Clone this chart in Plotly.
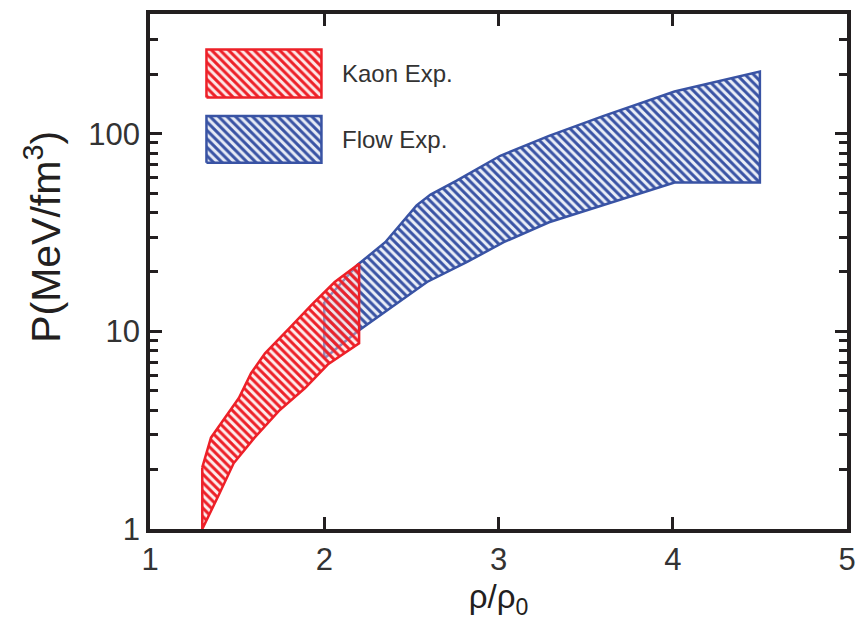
import plotly.graph_objects as go

# ---- data ----
kaon_upper_x = [1.30, 1.35, 1.41, 1.51, 1.58, 1.66, 1.80, 1.93, 2.06, 2.20]
kaon_upper_y = [2.05, 2.9, 3.45, 4.6, 6.15, 7.75, 10.4, 13.7, 17.8, 22.0]
kaon_lower_x = [1.30, 1.40, 1.48, 1.60, 1.74, 1.89, 2.02, 2.20]
kaon_lower_y = [1.0, 1.52, 2.15, 2.9, 3.96, 5.17, 6.8, 8.7]

flow_upper_x = [2.00, 2.19, 2.35, 2.48, 2.53, 2.61, 2.69, 2.76, 3.01, 3.29, 3.60, 4.01, 4.50]
flow_upper_y = [14.1, 21.7, 28.3, 38.7, 43.5, 49.3, 53.6, 58.0, 77.5, 97.7, 123.0, 164.0, 207.0]
flow_lower_x = [2.00, 2.19, 2.35, 2.59, 2.82, 3.03, 3.29, 3.60, 4.01, 4.50]
flow_lower_y = [7.3, 10.0, 12.6, 17.8, 22.5, 28.3, 35.7, 43.5, 56.7, 56.7]

series_names = ["Kaon Exp.", "Flow Exp."]
x_ticks = [1, 2, 3, 4, 5]
y_ticks = [1, 10, 100]
y_ticktext = ["1", "10", "100"]
y_minor = [2, 3, 4, 5, 6, 7, 8, 9, 20, 30, 40, 50, 60, 70, 80, 90, 200, 300]

RED = "rgb(237,32,40)"
BLUE = "rgb(57,83,164)"
AX = "#231F20"
FONT = "Liberation Sans, Arial, sans-serif"
PAT_SIZE = 6
PAT_SOL = 0.5


def band(ux, uy, lx, ly):
    xs = list(ux) + list(reversed(lx)) + [ux[0]]
    ys = list(uy) + list(reversed(ly)) + [uy[0]]
    return xs, ys


def edge(x, y, col):
    return go.Scatter(x=x, y=y, mode="lines", line=dict(color=col, width=2.5, shape="spline", smoothing=0.6),
                      showlegend=False, hoverinfo="skip")


fig = go.Figure()

fx, fy = band(flow_upper_x, flow_upper_y, flow_lower_x, flow_lower_y)
fig.add_trace(go.Scatter(
    x=fx, y=fy, mode="lines", fill="toself", name=series_names[1],
    line=dict(color=BLUE, width=2.5),
    fillcolor="rgba(0,0,0,0)",
    fillpattern=dict(shape="\\", size=PAT_SIZE, solidity=PAT_SOL, fgcolor=BLUE,
                     bgcolor="rgba(220,226,242,0.6)", fillmode="replace"),
    showlegend=False, hoverinfo="skip"))

kx, ky = band(kaon_upper_x, kaon_upper_y, kaon_lower_x, kaon_lower_y)
fig.add_trace(go.Scatter(
    x=kx, y=ky, mode="lines", fill="toself", name=series_names[0],
    line=dict(color=RED, width=2.5),
    fillcolor="rgba(0,0,0,0)",
    fillpattern=dict(shape="\\", size=PAT_SIZE, solidity=PAT_SOL, fgcolor=RED,
                     bgcolor="rgba(252,215,215,0.45)", fillmode="replace"),
    showlegend=False, hoverinfo="skip"))

# ---- legend swatches on an overlay axis (paper-like 0..1 coordinates) ----
legend_boxes = [
    (0.081, 0.246, 0.838, 0.931, RED, "rgba(252,215,215,0.6)"),
    (0.081, 0.246, 0.711, 0.802, BLUE, "rgba(220,226,242,0.7)"),
]
for (x0, x1, y0, y1, col, bg), nm in zip(legend_boxes, series_names):
    fig.add_trace(go.Scatter(
        x=[x0, x1, x1, x0, x0], y=[y0, y0, y1, y1, y0],
        xaxis="x2", yaxis="y2", mode="lines", fill="toself",
        line=dict(color=col, width=2.5), fillcolor="rgba(0,0,0,0)",
        fillpattern=dict(shape="\\", size=PAT_SIZE, solidity=PAT_SOL, fgcolor=col,
                         bgcolor=bg, fillmode="replace"),
        showlegend=False, hoverinfo="skip"))
    fig.add_annotation(x=0.273, y=(y0 + y1) / 2, xref="x2", yref="y2",
                       text=nm, showarrow=False, xanchor="left", yanchor="middle",
                       font=dict(family=FONT, size=24, color="#333333"))

# y-axis title as an annotation (placed like the reference)
fig.add_annotation(x=-0.153, y=0.568, xref="paper", yref="paper", textangle=-90,
                   text="P(MeV/fm<sup>3</sup>)", showarrow=False,
                   xanchor="center", yanchor="middle",
                   font=dict(family=FONT, size=41, color=AX))

fig.update_layout(
    width=866, height=627,
    margin=dict(l=150, r=12, t=10, b=98),
    paper_bgcolor="white", plot_bgcolor="white",
    font=dict(family=FONT, color=AX),
    xaxis=dict(
        range=[1, 5], tickvals=x_ticks, ticks="inside", ticklen=12, tickwidth=3,
        tickcolor=AX, showline=True, linewidth=3.5, linecolor=AX, mirror="ticks",
        showgrid=False, zeroline=False,
        tickfont=dict(family=FONT, size=31, color="#333333"),
        title=dict(text="ρ/ρ<sub>0</sub>", font=dict(family=FONT, size=33, color=AX), standoff=10),
    ),
    yaxis=dict(
        type="log", range=[0, 2.607], tickvals=y_ticks, ticktext=y_ticktext,
        ticks="inside", ticklen=12, tickwidth=3, tickcolor=AX,
        minor=dict(tickvals=y_minor, ticks="inside", ticklen=8, tickwidth=2.5, tickcolor=AX, showgrid=False),
        showline=True, linewidth=3.5, linecolor=AX, mirror="ticks",
        showgrid=False, zeroline=False,
        tickfont=dict(family=FONT, size=31, color="#333333"),
    ),
    xaxis2=dict(range=[0, 1], overlaying="x", visible=False, fixedrange=True),
    yaxis2=dict(range=[0, 1], overlaying="y", visible=False, fixedrange=True),
    showlegend=False,
)

fig.write_html("out.html")
